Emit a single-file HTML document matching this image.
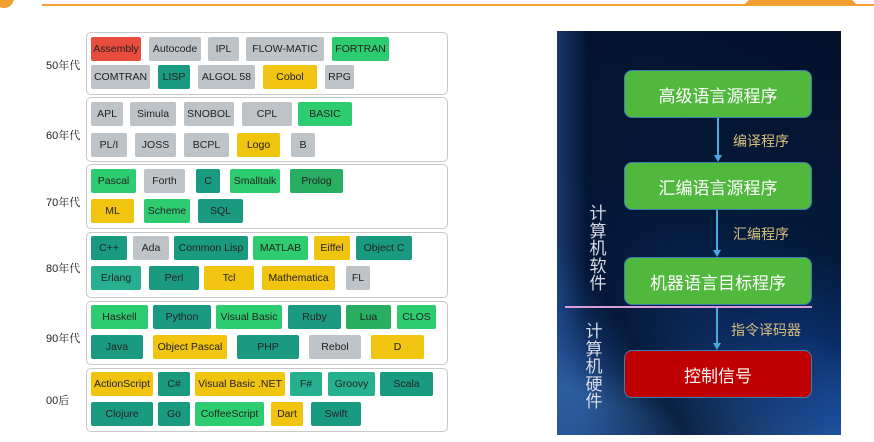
<!DOCTYPE html>
<html><head><meta charset="utf-8">
<style>
*{margin:0;padding:0;box-sizing:border-box}
body{width:874px;height:442px;background:#fff;position:relative;overflow:hidden;font-family:"Liberation Sans","Noto Sans CJK SC",sans-serif}
.a{position:absolute}
.grp{position:absolute;left:86px;width:362px;border:1px solid #c8c8c8;border-radius:5px;background:#fff}
.lbl{position:absolute;left:46px;font-size:11px;color:#222;font-family:"Liberation Sans","Noto Serif CJK SC",serif}
.c{position:absolute;height:24px;border-radius:2px;font-size:10.5px;color:#222;display:flex;align-items:center;justify-content:center;white-space:nowrap}
.r{background:#e74c3c}.g{background:#bdc3c7}.gr{background:#2ecc71}.t{background:#1a9a80}.y{background:#f1c40f}.dg{background:#27ae60}.t2{background:#26b08f}
.box{position:absolute;left:624px;width:188px;height:48px;border-radius:8px;border:1px solid #3a7fb0;color:#fff;font-size:17px;display:flex;align-items:center;justify-content:center;font-family:"Noto Sans CJK SC",sans-serif}
.gb{background:#50b83c}
.lab{position:absolute;left:733px;font-size:14px;color:#d9bf7e;font-family:"Noto Sans CJK SC",sans-serif}
.ar{position:absolute;width:2px;background:#4aa8e0}
.ah{position:absolute;width:0;height:0;border-left:4px solid transparent;border-right:4px solid transparent;border-top:7px solid #4aa8e0}
.vt{position:absolute;width:18px;font-size:17px;line-height:17.5px;color:#d8dde6;font-family:"Noto Sans CJK SC",sans-serif;text-align:center}
</style></head><body>
<div class="a" style="left:-6px;top:-12px;width:20px;height:20px;border-radius:50%;background:#f0a030"></div>
<div class="a" style="left:42px;top:4px;width:832px;height:2px;background:#f0a030"></div>
<div class="a" style="left:743px;top:0;width:115px;height:6px;background:#f0a030;clip-path:polygon(0 100%,5% 0,95% 0,100% 100%)"></div>

<div class="grp" style="top:32px;height:63px"></div>
<div class="grp" style="top:97px;height:65px"></div>
<div class="grp" style="top:164px;height:65px"></div>
<div class="grp" style="top:232px;height:66px"></div>
<div class="grp" style="top:301px;height:64px"></div>
<div class="grp" style="top:368px;height:64px"></div>

<div class="lbl" style="top:57px">50年代</div>
<div class="lbl" style="top:127px">60年代</div>
<div class="lbl" style="top:194px">70年代</div>
<div class="lbl" style="top:260px">80年代</div>
<div class="lbl" style="top:330px">90年代</div>
<div class="lbl" style="top:392px">00后</div>

<div class="c r" style="left:91px;top:37px;width:50px">Assembly</div>
<div class="c g" style="left:149px;top:37px;width:52px">Autocode</div>
<div class="c g" style="left:208px;top:37px;width:31px">IPL</div>
<div class="c g" style="left:246px;top:37px;width:78px">FLOW-MATIC</div>
<div class="c gr" style="left:332px;top:37px;width:57px">FORTRAN</div>
<div class="c g" style="left:91px;top:65px;width:59px">COMTRAN</div>
<div class="c t" style="left:158px;top:65px;width:32px">LISP</div>
<div class="c g" style="left:198px;top:65px;width:57px">ALGOL 58</div>
<div class="c y" style="left:263px;top:65px;width:54px">Cobol</div>
<div class="c g" style="left:325px;top:65px;width:29px">RPG</div>

<div class="c g" style="left:91px;top:102px;width:32px">APL</div>
<div class="c g" style="left:130px;top:102px;width:46px">Simula</div>
<div class="c g" style="left:184px;top:102px;width:50px">SNOBOL</div>
<div class="c g" style="left:242px;top:102px;width:50px">CPL</div>
<div class="c gr" style="left:298px;top:102px;width:54px">BASIC</div>
<div class="c g" style="left:91px;top:133px;width:36px">PL/I</div>
<div class="c g" style="left:135px;top:133px;width:41px">JOSS</div>
<div class="c g" style="left:184px;top:133px;width:45px">BCPL</div>
<div class="c y" style="left:237px;top:133px;width:43px">Logo</div>
<div class="c g" style="left:291px;top:133px;width:24px">B</div>

<div class="c gr" style="left:91px;top:169px;width:45px">Pascal</div>
<div class="c g" style="left:144px;top:169px;width:41px">Forth</div>
<div class="c t" style="left:196px;top:169px;width:24px">C</div>
<div class="c gr" style="left:230px;top:169px;width:50px">Smalltalk</div>
<div class="c dg" style="left:290px;top:169px;width:53px">Prolog</div>
<div class="c y" style="left:91px;top:199px;width:43px">ML</div>
<div class="c gr" style="left:144px;top:199px;width:46px">Scheme</div>
<div class="c t" style="left:198px;top:199px;width:45px">SQL</div>

<div class="c t" style="left:91px;top:236px;width:36px">C++</div>
<div class="c g" style="left:133px;top:236px;width:36px">Ada</div>
<div class="c t" style="left:174px;top:236px;width:74px">Common Lisp</div>
<div class="c gr" style="left:253px;top:236px;width:55px">MATLAB</div>
<div class="c y" style="left:314px;top:236px;width:36px">Eiffel</div>
<div class="c t" style="left:356px;top:236px;width:56px">Object C</div>
<div class="c t2" style="left:91px;top:266px;width:50px">Erlang</div>
<div class="c t" style="left:149px;top:266px;width:50px">Perl</div>
<div class="c y" style="left:204px;top:266px;width:50px">Tcl</div>
<div class="c y" style="left:262px;top:266px;width:73px">Mathematica</div>
<div class="c g" style="left:346px;top:266px;width:24px">FL</div>

<div class="c gr" style="left:91px;top:305px;width:57px">Haskell</div>
<div class="c t" style="left:153px;top:305px;width:58px">Python</div>
<div class="c gr" style="left:216px;top:305px;width:66px">Visual Basic</div>
<div class="c t" style="left:288px;top:305px;width:53px">Ruby</div>
<div class="c dg" style="left:346px;top:305px;width:45px">Lua</div>
<div class="c gr" style="left:397px;top:305px;width:39px">CLOS</div>
<div class="c t" style="left:91px;top:335px;width:52px">Java</div>
<div class="c y" style="left:153px;top:335px;width:74px">Object Pascal</div>
<div class="c t" style="left:237px;top:335px;width:62px">PHP</div>
<div class="c g" style="left:309px;top:335px;width:52px">Rebol</div>
<div class="c y" style="left:371px;top:335px;width:53px">D</div>

<div class="c y" style="left:91px;top:372px;width:62px">ActionScript</div>
<div class="c t" style="left:158px;top:372px;width:32px">C#</div>
<div class="c y" style="left:195px;top:372px;width:90px">Visual Basic .NET</div>
<div class="c t2" style="left:290px;top:372px;width:32px">F#</div>
<div class="c t2" style="left:328px;top:372px;width:47px">Groovy</div>
<div class="c t" style="left:380px;top:372px;width:53px">Scala</div>
<div class="c t" style="left:91px;top:402px;width:62px">Clojure</div>
<div class="c t" style="left:158px;top:402px;width:32px">Go</div>
<div class="c gr" style="left:195px;top:402px;width:69px">CoffeeScript</div>
<div class="c y" style="left:271px;top:402px;width:32px">Dart</div>
<div class="c t" style="left:311px;top:402px;width:50px">Swift</div>

<div class="a" style="left:557px;top:31px;width:284px;height:404px;background:linear-gradient(200deg,#03112a 0%,#041a3a 45%,#0a2d66 62%,#1f55a8 78%,#3f80d0 90%,#2a5aa0 100%)"></div>
<div class="a" style="left:557px;top:31px;width:284px;height:404px;background:linear-gradient(240deg,rgba(3,17,42,0) 40%,rgba(3,17,42,.85) 75%,rgba(3,17,42,0) 100%)"></div>
<div class="a" style="left:557px;top:31px;width:30px;height:404px;background:linear-gradient(90deg,rgba(40,80,150,.6),rgba(0,0,0,0))"></div>

<div class="box gb" style="top:70px">高级语言源程序</div>
<div class="box gb" style="top:162px">汇编语言源程序</div>
<div class="box gb" style="top:257px">机器语言目标程序</div>
<div class="box" style="top:350px;background:#c00000">控制信号</div>

<div class="ar" style="left:717px;top:118px;height:38px"></div><div class="ah" style="left:714px;top:155px"></div>
<div class="ar" style="left:716px;top:210px;height:41px"></div><div class="ah" style="left:713px;top:250px"></div>
<div class="ar" style="left:716px;top:308px;height:36px"></div><div class="ah" style="left:713px;top:343px"></div>

<div class="a" style="left:565px;top:306px;width:247px;height:2px;background:#d9a0d8"></div>

<div class="lab" style="top:131px">编译程序</div>
<div class="lab" style="top:224px">汇编程序</div>
<div class="lab" style="top:320px;left:731px">指令译码器</div>

<div class="vt" style="left:589px;top:203px">计<br>算<br>机<br>软<br>件</div>
<div class="vt" style="left:585px;top:321px">计<br>算<br>机<br>硬<br>件</div>
</body></html>
